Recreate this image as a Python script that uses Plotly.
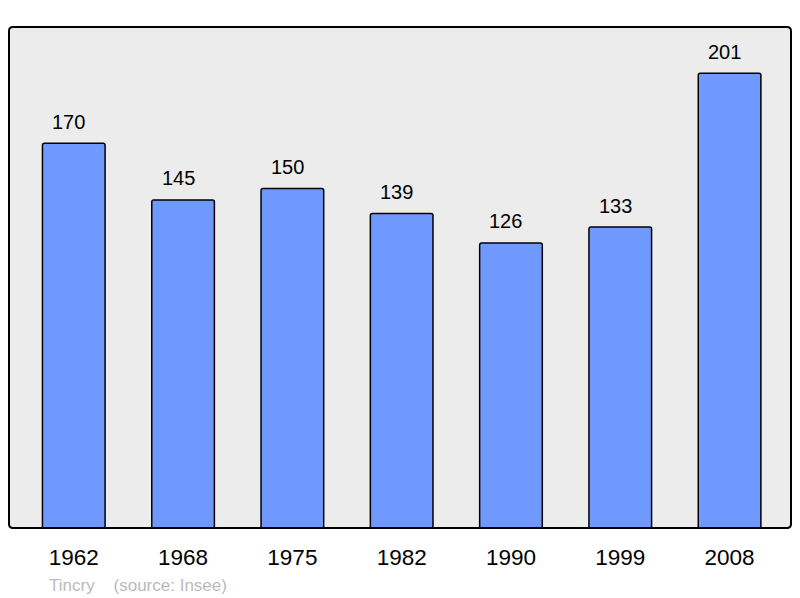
import plotly.graph_objects as go

years = ["1962", "1968", "1975", "1982", "1990", "1999", "2008"]
population = [170, 145, 150, 139, 126, 133, 201]
commune = "Tincry"
source = "(source: Insee)"

W, H = 800, 598
L, R, T, B = 8.5, 8.5, 27, 70
pw = W - L - R
ph = H - T - B

xs = list(range(len(years)))
font = "Liberation Sans, Arial, sans-serif"

fig = go.Figure()
fig.add_trace(go.Bar(
    x=xs, y=population, width=0.573,
    marker=dict(color="#7099ff", line=dict(color="#000000", width=1.5)),
    hoverinfo="skip",
))

for x, v in zip(xs, population):
    fig.add_annotation(x=x, y=v, text=str(v), showarrow=False,
                       xanchor="center", yanchor="bottom", xshift=-5, yshift=8.5,
                       font=dict(family=font, size=20, color="#000000"))

fig.add_annotation(xref="paper", yref="paper", x=(47 - L) / pw, y=-(585 - T - ph) / ph,
                   text=commune + "&nbsp;&nbsp;&nbsp;&nbsp;" + source, showarrow=False,
                   xanchor="left", yanchor="middle",
                   font=dict(family=font, size=17, color="#bbbbbb"))

# rounded frame
r = 4
rx, ry = r / pw, r / ph
path = (f"M {rx},0 L {1-rx},0 Q 1,0 1,{ry} L 1,{1-ry} Q 1,1 {1-rx},1 "
        f"L {rx},1 Q 0,1 0,{1-ry} L 0,{ry} Q 0,0 {rx},0 Z")
fig.add_shape(type="path", xref="paper", yref="paper", path=path,
              line=dict(color="#000000", width=2), layer="above")

fig.update_layout(
    width=W, height=H,
    margin=dict(l=L, r=R, t=T, b=B, pad=0),
    paper_bgcolor="#ffffff", plot_bgcolor="#ececec",
    showlegend=False,
    barcornerradius=2,
    xaxis=dict(range=[-0.5926, 6.562], tickvals=xs, ticktext=years,
               showgrid=False, zeroline=False, showline=False, ticks="",
               tickfont=dict(family=font, size=22.5, color="#000000"),
               ticklabelstandoff=13, fixedrange=True),
    yaxis=dict(range=[0, 221.4], showgrid=False, zeroline=False, showline=False,
               showticklabels=False, ticks="", fixedrange=True),
)

fig.write_html("out.html", config={"displayModeBar": False},
               post_script="document.body.style.margin='0';document.body.style.padding='0';")
